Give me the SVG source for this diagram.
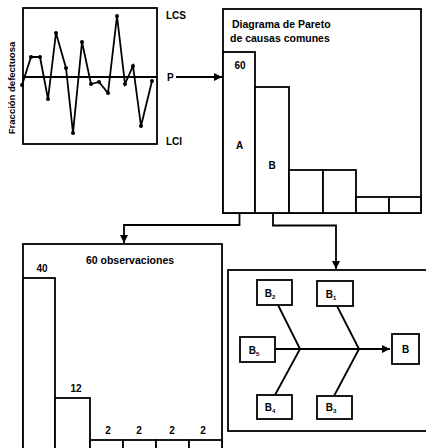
<svg xmlns="http://www.w3.org/2000/svg" width="426" height="448" viewBox="0 0 426 448">
<defs>
<style>
.ln{fill:none;stroke:#000;stroke-width:1.8}
.bx{fill:#fff;stroke:#000;stroke-width:1.8}
.t{font-family:"Liberation Sans",Arial,sans-serif;font-weight:bold;fill:#000}
.sub{font-size:6px}
</style>
<marker id="ah" viewBox="0 0 10 10" refX="10" refY="5" markerWidth="4.5" markerHeight="4.5" orient="auto" markerUnits="strokeWidth">
<path d="M0,0 L10,5 L0,10 z" fill="#000"/>
</marker>
</defs>
<rect width="426" height="448" fill="#fff"/>

<g id="control-chart">
<rect class="bx" x="23" y="8" width="134" height="136"/>
<line class="ln" x1="23" y1="77" x2="157" y2="77" stroke-width="1.2"/>
<polyline class="ln" points="22,85 31,57 40,57 48,99 56,33 66,68 73,133 82,42 91,84 99,82 108,93 117,16 125,84 133,66 141,126 152,81"/>
<g fill="#000">
<circle cx="22" cy="85" r="2"/><circle cx="31" cy="57" r="2"/><circle cx="40" cy="57" r="2"/><circle cx="48" cy="99" r="2"/>
<circle cx="56" cy="33" r="2"/><circle cx="66" cy="68" r="2"/><circle cx="73" cy="133" r="2"/><circle cx="82" cy="42" r="2"/>
<circle cx="91" cy="84" r="2"/><circle cx="99" cy="82" r="2"/><circle cx="108" cy="93" r="2"/><circle cx="117" cy="16" r="2"/>
<circle cx="125" cy="84" r="2"/><circle cx="133" cy="66" r="2"/><circle cx="141" cy="126" r="2"/><circle cx="152" cy="81" r="2"/>
</g>
<text class="t" x="0" y="0" font-size="9.5" text-anchor="middle" transform="translate(15,88) rotate(-90)">Fracción defectuosa</text>
<text class="t" x="166" y="19" font-size="10">LCS</text>
<text class="t" x="167" y="81" font-size="10">P</text>
<text class="t" x="166" y="145" font-size="10">LCI</text>
</g>

<g id="pareto-causes">
<rect class="bx" x="223" y="9" width="198" height="204"/>
<text class="t" x="232" y="28" font-size="10.5">Diagrama de Pareto</text>
<text class="t" x="230" y="42" font-size="10.5">de causas comunes</text>
<rect class="bx" x="223" y="52" width="32" height="161"/>
<rect class="bx" x="255" y="87" width="34" height="126"/>
<rect class="bx" x="289" y="170" width="34" height="43"/>
<rect class="bx" x="323" y="170" width="33" height="43"/>
<rect class="bx" x="356" y="197" width="33" height="16"/>
<rect class="bx" x="389" y="197" width="32" height="16"/>
<text class="t" x="240" y="69" font-size="10" text-anchor="middle">60</text>
<text class="t" x="239.5" y="149" font-size="10" text-anchor="middle">A</text>
<text class="t" x="272" y="169" font-size="10" text-anchor="middle">B</text>
</g>

<g id="pareto-observations">
<rect class="bx" x="23" y="244" width="199" height="220"/>
<text class="t" x="130" y="264" font-size="10.5" text-anchor="middle">60 observaciones</text>
<rect class="bx" x="23" y="278" width="32" height="186"/>
<rect class="bx" x="55" y="398" width="35" height="66"/>
<rect class="bx" x="90" y="440" width="33" height="24"/>
<rect class="bx" x="123" y="440" width="33" height="24"/>
<rect class="bx" x="156" y="440" width="33" height="24"/>
<rect class="bx" x="189" y="440" width="33" height="24"/>
<text class="t" x="42" y="272" font-size="10" text-anchor="middle">40</text>
<text class="t" x="76" y="392" font-size="10" text-anchor="middle">12</text>
<text class="t" x="108" y="434" font-size="10" text-anchor="middle">2</text>
<text class="t" x="139" y="434" font-size="10" text-anchor="middle">2</text>
<text class="t" x="172" y="434" font-size="10" text-anchor="middle">2</text>
<text class="t" x="203" y="434" font-size="10" text-anchor="middle">2</text>
</g>

<g id="fishbone">
<rect class="bx" x="228" y="270" width="210" height="161"/>
<g id="bone-lines">
<line class="ln" x1="275" y1="349" x2="390" y2="349" marker-end="url(#ah)"/>
<line class="ln" x1="278" y1="305" x2="300" y2="349"/>
<line class="ln" x1="300" y1="349" x2="275" y2="395"/>
<line class="ln" x1="337" y1="306" x2="359" y2="349"/>
<line class="ln" x1="359" y1="349" x2="334" y2="396"/>
</g>
<g id="node-B2"><rect class="bx" x="257" y="280" width="35" height="25"/><text class="t" x="270" y="297" font-size="10" text-anchor="middle">B<tspan class="sub" dy="2">2</tspan></text></g>
<g id="node-B1"><rect class="bx" x="317" y="281" width="36" height="25"/><text class="t" x="331" y="298" font-size="10" text-anchor="middle">B<tspan class="sub" dy="2">1</tspan></text></g>
<g id="node-B5"><rect class="bx" x="240" y="337" width="35" height="25"/><text class="t" x="254" y="354" font-size="10" text-anchor="middle">B<tspan class="sub" dy="2">5</tspan></text></g>
<g id="node-B"><rect class="bx" x="392" y="334" width="27" height="30"/><text class="t" x="405.5" y="353" font-size="10" text-anchor="middle">B</text></g>
<g id="node-B4"><rect class="bx" x="257" y="395" width="35" height="24"/><text class="t" x="270" y="411" font-size="10" text-anchor="middle">B<tspan class="sub" dy="2">4</tspan></text></g>
<g id="node-B3"><rect class="bx" x="317" y="396" width="35" height="23"/><text class="t" x="331" y="411" font-size="10" text-anchor="middle">B<tspan class="sub" dy="2">3</tspan></text></g>
</g>

<g id="connectors">
<line class="ln" x1="176" y1="77" x2="222" y2="77" marker-end="url(#ah)"/>
<polyline class="ln" points="239.5,213 239.5,225 124,225 124,243" marker-end="url(#ah)"/>
<polyline class="ln" points="273,213 273,225.5 336,225.5 336,269" marker-end="url(#ah)"/>
</g>
</svg>
